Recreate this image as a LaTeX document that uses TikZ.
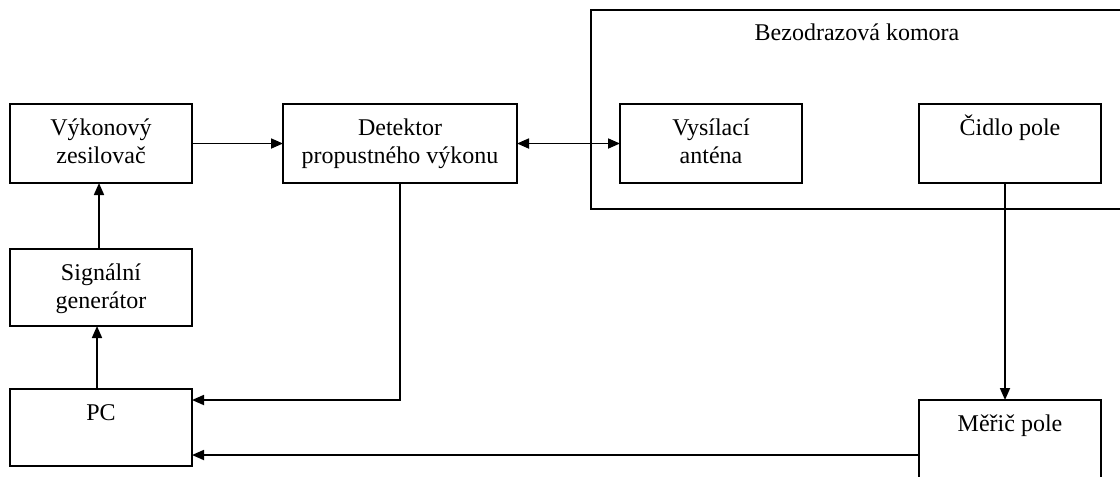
\documentclass[tikz,border=0pt]{standalone}
\usepackage{fontspec}
\setmainfont{Liberation Serif}
\usetikzlibrary{arrows.meta}
\newlength\pxu
\setlength\pxu{0.75pt}
\newcommand\btext[3]{\parbox[t][#2\pxu][t]{#1\pxu}{\centering\rule{0pt}{31\pxu}#3\par}}
\begin{document}
\begin{tikzpicture}[x=0.75pt,y=-0.75pt, line width=1.3pt,
  box/.style={draw, inner sep=0pt, outer sep=0pt, anchor=north west, font=\fontsize{18}{21}\selectfont},
  lbl/.style={inner sep=0pt, anchor=base, font=\fontsize{18}{21}\selectfont},
  arr/.style={-{Triangle[length=9pt,width=7.5pt]}},
  darr/.style={{Triangle[length=9pt,width=7.5pt]}-{Triangle[length=9pt,width=7.5pt]}}]
\useasboundingbox (0,0) rectangle (1120,476);
\clip (0,0) rectangle (1120,476);
\fill[white] (0,0) rectangle (1120,476);
% chamber
\node[draw, inner sep=0pt, outer sep=0pt, anchor=north west, minimum width=534\pxu, minimum height=199\pxu] (kom) at (591,10) {};
\node[lbl] (komlbl) at (857,40) {Bezodrazová komora};
% boxes
\node[box] (vyk) at (10,104) {\btext{182}{79}{Výkonový\\zesilovač}};
\node[box] (sig) at (10,249) {\btext{182}{77}{Signální\\generátor}};
\node[box] (pc)  at (10,389) {\btext{182}{77}{PC}};
\node[box] (det) at (283,104) {\btext{234}{79}{Detektor\\propustného výkonu}};
\node[box] (vys) at (620,104) {\btext{182}{79}{Vysílací\\anténa}};
\node[box] (cid) at (919,104) {\btext{182}{79}{Čidlo pole}};
\node[box] (mer) at (919,400) {\btext{182}{82}{Měřič pole}};
% connectors
\draw[arr] (vyk.east) -- (det.west);
\draw[darr] (det.east) -- (vys.west);
\draw[arr] ([xshift=-2\pxu]sig.north) -- ([xshift=-2\pxu]vyk.south);
\draw[arr] ([xshift=-4\pxu]pc.north) -- ([xshift=-4\pxu]sig.south);
\draw[arr] (det.south) |- ([yshift=27.5\pxu]pc.east);
\draw[arr] ([xshift=-5\pxu]cid.south) -- ([xshift=-5\pxu]mer.north);
\draw[arr] ([yshift=-14\pxu]mer.west) -- ([yshift=-27.5\pxu]pc.east);
\end{tikzpicture}
\end{document}
